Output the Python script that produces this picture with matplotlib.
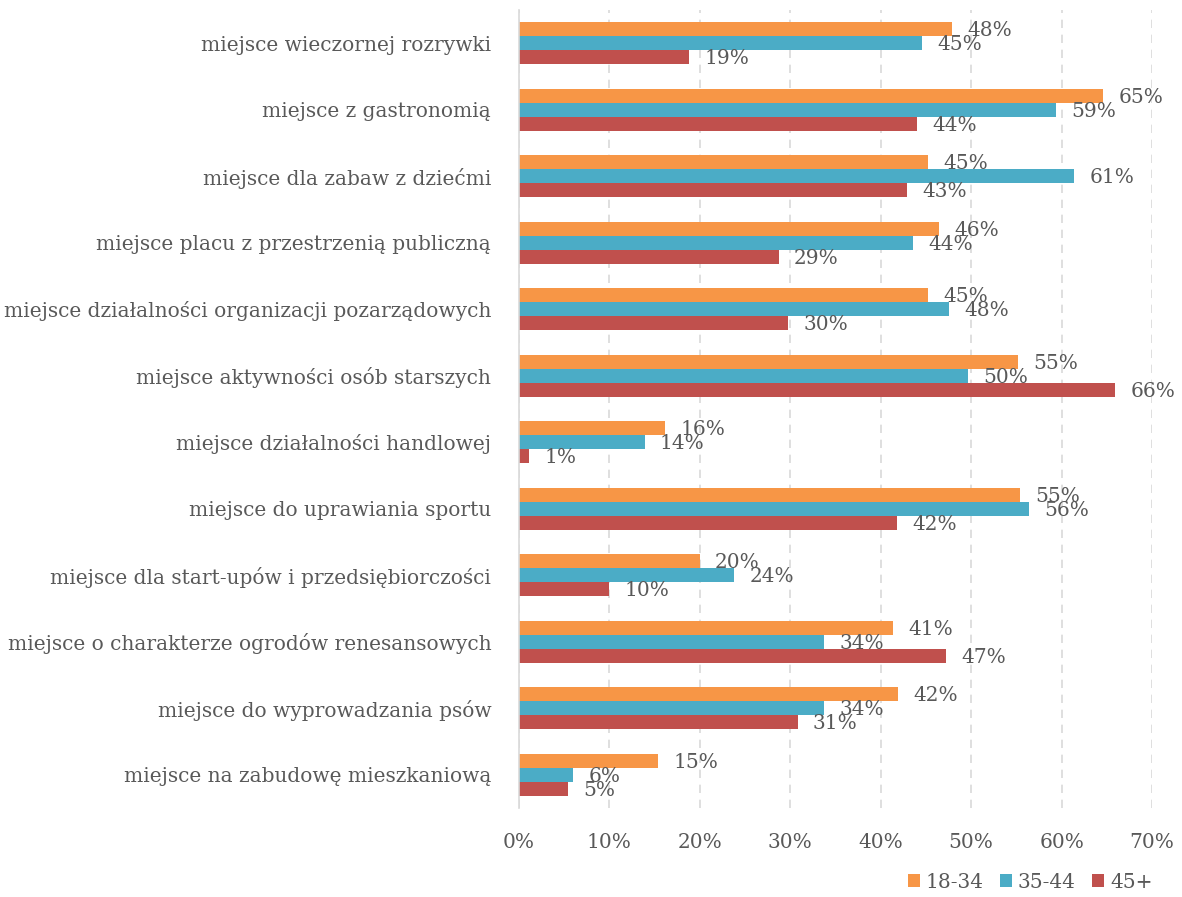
import matplotlib.pyplot as plt
import numpy as np

categories = [
    'miejsce wieczornej rozrywki',
    'miejsce z gastronomią',
    'miejsce dla zabaw z dziećmi',
    'miejsce placu z przestrzenią publiczną',
    'miejsce działalności organizacji pozarządowych',
    'miejsce aktywności osób starszych',
    'miejsce działalności handlowej',
    'miejsce do uprawiania sportu',
    'miejsce dla start-upów i przedsiębiorczości',
    'miejsce o charakterze ogrodów renesansowych',
    'miejsce do wyprowadzania psów',
    'miejsce na zabudowę mieszkaniową',
]
series_names = ['18-34', '35-44', '45+']
v_18_34 = [47.9, 64.6, 45.2, 46.5, 45.2, 55.2, 16.2, 55.4, 20.0, 41.4, 41.9, 15.4]
v_35_44 = [44.6, 59.4, 61.4, 43.6, 47.6, 49.6, 13.9, 56.4, 23.8, 33.7, 33.7, 6.0]
v_45 = [18.8, 44.0, 42.9, 28.7, 29.8, 65.9, 1.1, 41.8, 10.0, 47.2, 30.8, 5.4]
colors = ['#F79646', '#4BACC6', '#C0504D']
text_color = '#595959'

plt.rcParams['font.family'] = ['DejaVu Serif']
fs = 14.5

fig = plt.figure(figsize=(11.82, 8.97), dpi=100)
ax = fig.add_axes([519 / 1182, 1 - 808 / 897, (1152 - 519) / 1182, 798 / 897])

n = len(categories)
y = np.arange(n)
h = 0.21
for i, (vals, name, c) in enumerate(zip([v_18_34, v_35_44, v_45], series_names, colors)):
    pos = y + (i - 1) * h
    bars = ax.barh(pos, vals, height=h, color=c, label=name)
    for b, v in zip(bars, vals):
        ax.annotate(f'{round(v):d}%', (v, b.get_y() + h / 2), xytext=(11, -1),
                    textcoords='offset points', va='center', ha='left',
                    fontsize=fs, color=text_color)

ax.set_ylim(n - 0.5, -0.5)
ax.set_xlim(0, 70)
ax.set_xticks(np.arange(0, 71, 10))
ax.set_xticklabels([f'{t}%' for t in range(0, 71, 10)])
ax.set_yticks(y)
ax.set_yticklabels(categories)
ax.tick_params(axis='both', length=0, labelsize=fs, colors=text_color)
ax.tick_params(axis='x', pad=18)
ax.tick_params(axis='y', pad=20)
ax.xaxis.grid(True, color='#D9D9D9', linestyle=(0, (5, 4)), linewidth=1.2)
ax.set_axisbelow(True)
for s in ['top', 'right', 'bottom']:
    ax.spines[s].set_visible(False)
ax.spines['left'].set_color('#D9D9D9')
ax.spines['left'].set_linewidth(1.2)

leg = fig.legend(loc='center', bbox_to_anchor=(1030 / 1182, 1 - 882 / 897), ncol=3,
                 frameon=False, fontsize=fs, handlelength=0.6, handleheight=0.6,
                 handletextpad=0.3, columnspacing=0.8)
for t in leg.get_texts():
    t.set_color(text_color)

fig.savefig('out.png', dpi=100)
